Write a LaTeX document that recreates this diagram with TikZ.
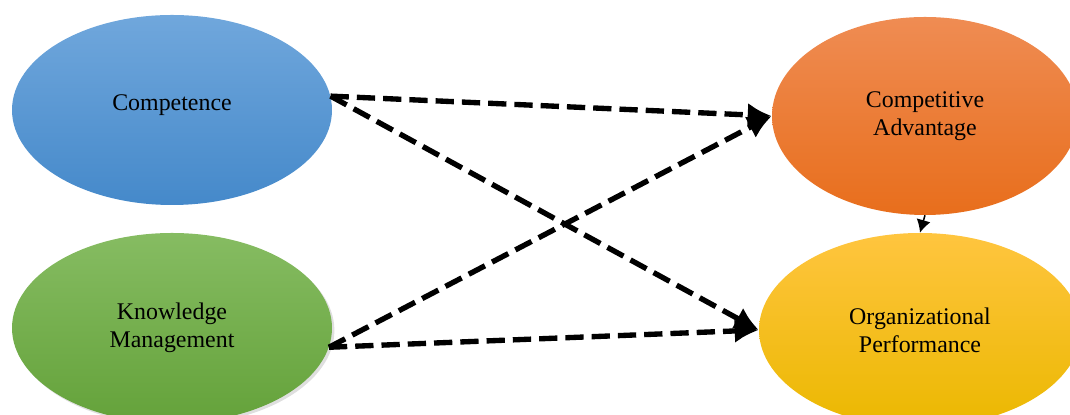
\documentclass[tikz,border=0pt]{standalone}
\usepackage{fontspec}
\setmainfont{Liberation Serif}
\usetikzlibrary{arrows.meta, shapes.geometric, shadows}
\definecolor{bluetop}{HTML}{70A7DC}
\definecolor{bluebot}{HTML}{4589CA}
\definecolor{greentop}{HTML}{86BC62}
\definecolor{greenbot}{HTML}{64A23A}
\definecolor{orangetop}{HTML}{EF8C53}
\definecolor{orangebot}{HTML}{E86E1C}
\definecolor{goldtop}{HTML}{FFC53F}
\definecolor{goldbot}{HTML}{EBB800}
\tikzset{
  >=Latex,
  bubble/.style 2 args={
    ellipse, draw=none, inner sep=0pt, align=center,
    top color=#1, bottom color=#2,
    font=\fontsize{17}{20}\selectfont
  },
  link/.style={-{Latex[length=0.6cm,width=0.6cm]}, line width=3.8pt,
    dash pattern=on 13pt off 5.7pt},
  tiny/.style={-{Latex[length=0.32cm,width=0.36cm]}, line width=1.1pt}
}
\begin{document}
\begin{tikzpicture}
  \useasboundingbox (0,0) rectangle (26.75,10.375);
  \node[bubble={bluetop}{bluebot}, minimum width=8cm, minimum height=4.75cm]
    (comp) at (4.3,7.625) {\raisebox{0.35cm}{Competence}};
  \node[bubble={greentop}{greenbot}, minimum width=8cm, minimum height=4.75cm,
    drop shadow={opacity=0.25, shadow xshift=0.06cm, shadow yshift=-0.06cm}]
    (km) at (4.3,2.175) {Knowledge\\Management};
  \node[bubble={orangetop}{orangebot}, minimum width=7.65cm, minimum height=4.95cm]
    (ca) at (23.125,7.475) {Competitive\\Advantage};
  \node[bubble={goldtop}{goldbot}, minimum width=8.05cm, minimum height=4.85cm]
    (op) at (23.0,2.125) {Organizational\\Performance};
  % paths between constructs
  \draw[link] (comp.5) -- (ca.west);
  \draw[link] (comp.5) -- (op.west);
  \draw[link] (km.-7) -- (ca.west);
  \draw[link] (km.-7) -- (op.west);
  \draw[tiny] (ca.south) -- (op.north);
\end{tikzpicture}
\end{document}
